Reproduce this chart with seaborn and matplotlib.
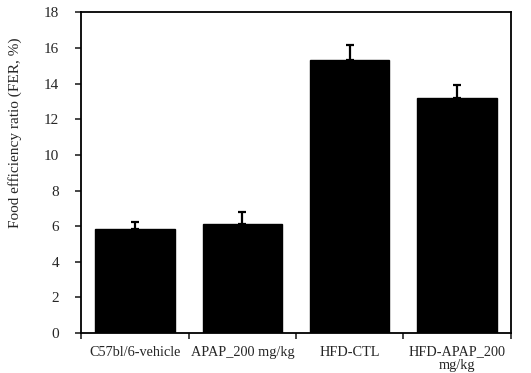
import numpy as np
import pandas as pd
import seaborn as sns
import matplotlib.pyplot as plt
from matplotlib.ticker import FixedLocator, NullFormatter

# data
groups = ["C57bl/6-vehicle", "APAP_200 mg/kg", "HFD-CTL", "HFD-APAP_200\nmg/kg"]
fer = [5.85, 6.11, 15.33, 13.2]
fer_err = [0.39, 0.67, 0.82, 0.73]
y_ticks = [0, 2, 4, 6, 8, 10, 12, 14, 16, 18]

sns.set_style("ticks")
plt.rcParams["font.family"] = ["Liberation Serif", "DejaVu Serif"]

df = pd.DataFrame({"group": groups, "fer": fer})

fig, ax = plt.subplots(figsize=(5.31, 3.73), dpi=100)
fig.subplots_adjust(left=0.153, right=0.962, top=0.967, bottom=0.107)

sns.barplot(data=df, x="group", y="fer", color="black", saturation=1,
            width=0.74, errorbar=None, ax=ax, edgecolor="black")

xpos = np.arange(len(groups))
ax.errorbar(xpos, fer, yerr=[np.zeros(len(fer)), fer_err], fmt="none",
            ecolor="black", elinewidth=1.6, capsize=3, capthick=1.6)

ax.set_ylim(0, 18)
ax.set_xlim(-0.5, len(groups) - 0.5)
ax.set_yticks(y_ticks)
ax.set_ylabel("Food efficiency ratio (FER, %)", fontsize=11)
ax.yaxis.set_label_coords(-0.137, 0.626)
ax.set_xlabel("")

# x ticks sit between categories, labels stay centred
ax.tick_params(axis="x", which="major", length=0, labelsize=10.3, pad=9)
ax.xaxis.set_minor_locator(FixedLocator(np.arange(-0.5, len(groups) - 0.4, 1)))
ax.xaxis.set_minor_formatter(NullFormatter())
ax.tick_params(axis="x", which="minor", length=4, width=1.2, direction="out")
ax.tick_params(axis="y", length=4, width=1.2, labelsize=11, pad=12, direction="out")
for lbl in ax.get_xticklabels():
    lbl.set_linespacing(1.0)

for side in ["top", "right", "left", "bottom"]:
    ax.spines[side].set_visible(True)
    ax.spines[side].set_linewidth(1.3)
    ax.spines[side].set_color("black")

plt.savefig("out.png", dpi=100)
